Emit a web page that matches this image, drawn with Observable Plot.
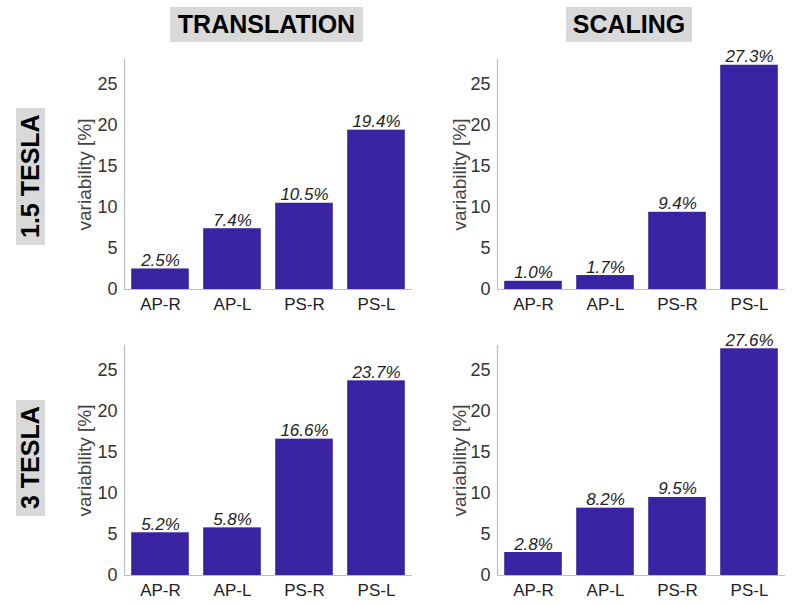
<!DOCTYPE html>
<html>
<head>
<meta charset="utf-8">
<script src="https://cdn.jsdelivr.net/npm/d3@7"></script>
<script src="https://cdn.jsdelivr.net/npm/@observablehq/plot@0.6"></script>
<style>
  html, body { margin: 0; padding: 0; background: #fff; overflow: hidden; }
  body { width: 800px; height: 604px; position: relative; font-family: "Liberation Sans", Arial, sans-serif; }
  .panel { position: absolute; }
  .colhead { position: absolute; background: #d9d9d9; font-weight: bold; font-size: 25px; color: #000;
    display: flex; align-items: center; justify-content: center; height: 35px; top: 7px; }
  .rowhead { position: absolute; background: #d9d9d9; font-weight: bold; font-size: 25px; color: #000;
    writing-mode: vertical-rl; transform: rotate(180deg); display: flex; align-items: center; justify-content: center; width: 29px; left: 16px; }
</style>
</head>
<body>
<script>
const categories = ["AP-R", "AP-L", "PS-R", "PS-L"];
const translation15 = [2.5, 7.4, 10.5, 19.4];
const scaling15 = [1.0, 1.7, 9.4, 27.3];
const translation3 = [5.2, 5.8, 16.6, 23.7];
const scaling3 = [2.8, 8.2, 9.5, 27.6];
const yTicks = [0, 5, 10, 15, 20, 25];
const yMax = 28;
const yLabel = "variability [%]";
const columnTitles = ["TRANSLATION", "SCALING"];
const rowTitles = ["1.5 TESLA", "3 TESLA"];
const barColor = "#3a23a2";
const axisColor = "#bdbdbd";

function panel(values, marginLeft, marginRight, labelOffset) {
  const data = values.map((v, i) => ({cat: categories[i], pos: i + 1, value: v}));
  return Plot.plot({
    width: 362,
    height: 279,
    marginLeft, marginRight,
    marginTop: 19,
    marginBottom: 30,
    x: {domain: [0.5, categories.length + 0.5], axis: null},
    y: {domain: [0, yMax], axis: null},
    style: {fontFamily: "'Liberation Sans', Arial, sans-serif", background: "transparent", color: "#333", overflow: "visible"},
    marks: [
      Plot.rectY(data, {x1: d => d.pos - 0.4, x2: d => d.pos + 0.4, y: "value", fill: barColor}),
      Plot.ruleY([0], {stroke: axisColor, strokeWidth: 1.2}),
      Plot.ruleX([0.5], {stroke: axisColor, strokeWidth: 1.2}),
      Plot.axisY(yTicks, {tickSize: 0, tickPadding: 7, fontSize: 18, fill: "#333", label: null}),
      Plot.text([yLabel], {frameAnchor: "left", textAnchor: "middle", rotate: -90, dx: -labelOffset, fontSize: 19, fill: "#444", text: d => d}),
      Plot.axisX(data.map(d => d.pos), {tickSize: 0, tickPadding: 8, fontSize: 17, fill: "#222",
        tickFormat: p => categories[p - 1], label: null}),
      Plot.text(data, {x: "pos", y: "value", text: d => d.value.toFixed(1) + "%", fontStyle: "italic",
        fontSize: 17, fill: "#222", lineAnchor: "bottom", dy: -3})
    ]
  });
}

function place(el, left, top) {
  const div = document.createElement("div");
  div.className = "panel";
  div.style.left = left + "px";
  div.style.top = top + "px";
  div.appendChild(el);
  document.body.appendChild(div);
}

place(panel(translation15, 64, 10, 40), 60, 40);
place(panel(scaling15, 62, 12, 38), 435, 40);
place(panel(translation3, 64, 10, 40), 60, 326);
place(panel(scaling3, 62, 12, 38), 435, 326);

function head(text, cls, styles) {
  const d = document.createElement("div");
  d.className = cls;
  d.textContent = text;
  Object.assign(d.style, styles);
  document.body.appendChild(d);
}
head(columnTitles[0], "colhead", {left: "170px", width: "193px"});
head(columnTitles[1], "colhead", {left: "566px", width: "126px"});
head(rowTitles[0], "rowhead", {top: "108px", height: "137px"});
head(rowTitles[1], "rowhead", {top: "400px", height: "116px"});
</script>
</body>
</html>
